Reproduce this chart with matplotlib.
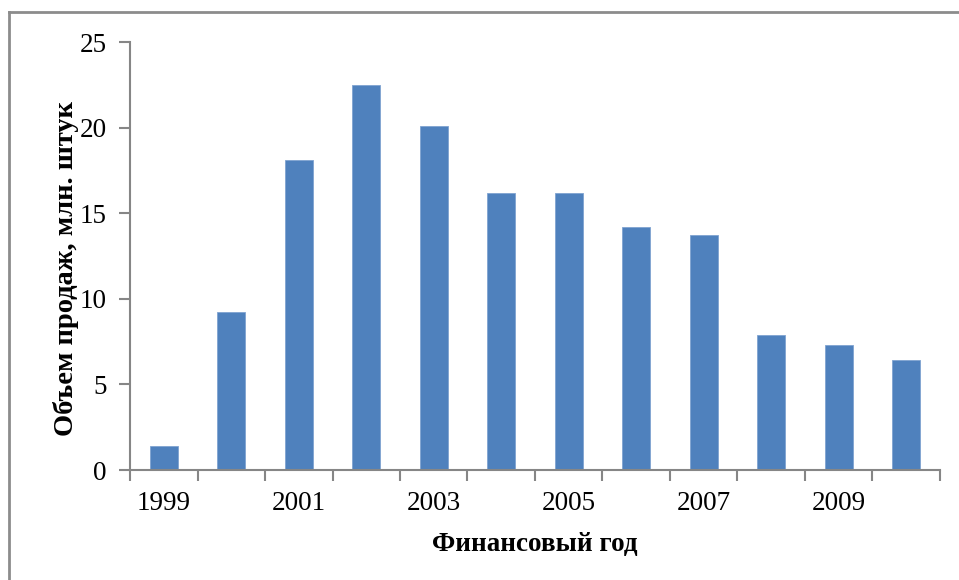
import numpy as np
import matplotlib.pyplot as plt
from matplotlib.lines import Line2D

years = [1999, 2000, 2001, 2002, 2003, 2004, 2005, 2006, 2007, 2008, 2009, 2010]
sales = [1.4, 9.2, 18.1, 22.5, 20.1, 16.2, 16.2, 14.2, 13.7, 7.9, 7.3, 6.4]
y_ticks = [0, 5, 10, 15, 20, 25]

plt.rcParams['font.family'] = ['Liberation Serif', 'DejaVu Serif']

W, H = 959, 580
fig = plt.figure(figsize=(W / 100, H / 100), dpi=100)
ax = fig.add_axes([130 / W, 1 - 470 / H, 810 / W, 428 / H])

x = np.arange(len(years))
ax.bar(x, sales, width=0.42, color='#4F81BD', edgecolor='#7FA3D1', linewidth=0.6, zorder=2)

axis_gray = '#868686'
ax.set_xlim(-0.5, len(years) - 0.5)
ax.set_ylim(0, 25)
ax.set_yticks(y_ticks)
ax.set_yticklabels([str(v) for v in y_ticks], fontsize=19.5)

# category boundary ticks, labels on every second year
ax.set_xticks(np.arange(-0.5, len(years), 1.0))
ax.set_xticklabels([])
ax.set_xticks(x[::2], minor=True)
ax.set_xticklabels([str(y) for y in years[::2]], minor=True, fontsize=19.5)
ax.tick_params(axis='x', which='major', direction='out', length=8, width=1.5, color=axis_gray)
ax.tick_params(axis='x', which='minor', length=0, pad=15)
ax.tick_params(axis='y', direction='out', length=8, width=1.5, color=axis_gray, pad=9)

for side in ['top', 'right']:
    ax.spines[side].set_visible(False)
for side in ['left', 'bottom']:
    ax.spines[side].set_color(axis_gray)
    ax.spines[side].set_linewidth(1.5)

fig.text(535 / W, 1 - 545 / H, 'Финансовый год', ha='center', va='center',
         fontsize=19.5, fontweight='bold')
fig.text(66 / W, 1 - 268 / H, 'Объем продаж, млн. штук', ha='center', va='center',
         rotation=90, fontsize=20.5, fontweight='bold')

# outer chart frame (left and top edges visible)
fig.add_artist(Line2D([8.5 / W, 8.5 / W], [0, 1 - 11.5 / H], color='#8C8C8C', lw=2))
fig.add_artist(Line2D([8.5 / W, 1], [1 - 11.5 / H, 1 - 11.5 / H], color='#8C8C8C', lw=2))

fig.savefig('out.png', dpi=100)
